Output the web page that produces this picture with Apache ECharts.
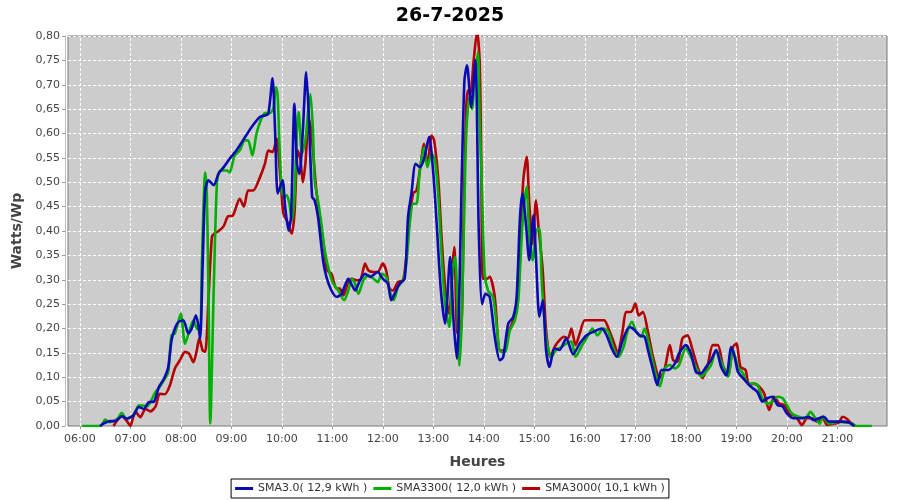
<!DOCTYPE html>
<html>
<head>
<meta charset="utf-8">
<script src="https://cdn.jsdelivr.net/npm/echarts@6/dist/echarts.min.js"></script>
<style>html,body{margin:0;padding:0;background:#fff}#c{width:900px;height:500px}</style>
</head>
<body>
<div id="c"></div>
<script>
const title = '26-7-2025';
const seriesNames = ['SMA3.0( 12,9 kWh )', 'SMA3300( 12,0 kWh )', 'SMA3000( 10,1 kWh )'];
const hourTicks = ['06:00','07:00','08:00','09:00','10:00','11:00','12:00','13:00','14:00','15:00','16:00','17:00','18:00','19:00','20:00','21:00'];

const blueTimes = ['06:24','06:28','06:36','06:42','06:50','06:56','07:04','07:10','07:16','07:22','07:28','07:34','07:40','07:45','07:49','07:53','07:57','08:03','08:09','08:13','08:18','08:21','08:23','08:26','08:29','08:33','08:39','08:45','08:51','08:58','09:06','09:14','09:24','09:34','09:40','09:44','09:49','09:52','09:55','09:58','10:01','10:04','10:08','10:11','10:15','10:18','10:21','10:25','10:29','10:32','10:36','10:39','10:43','10:49','10:53','10:59','11:05','11:11','11:19','11:23','11:27','11:33','11:39','11:45','11:54','12:00','12:06','12:10','12:14','12:20','12:26','12:30','12:34','12:39','12:44','12:49','12:55','13:00','13:04','13:09','13:14','13:20','13:24','13:28','13:34','13:37','13:40','13:45','13:50','13:54','13:58','14:02','14:07','14:13','14:19','14:23','14:29','14:35','14:39','14:43','14:46','14:50','14:54','14:59','15:02','15:06','15:10','15:14','15:18','15:24','15:30','15:38','15:46','15:54','16:02','16:10','16:20','16:26','16:32','16:38','16:45','16:53','16:59','17:05','17:11','17:15','17:21','17:26','17:31','17:39','17:47','17:52','18:00','18:06','18:12','18:18','18:24','18:30','18:36','18:42','18:48','18:54','18:58','19:02','19:10','19:17','19:25','19:31','19:37','19:43','19:49','19:55','20:00','20:08','20:18','20:26','20:32','20:38','20:44','20:50','20:58','21:06','21:14','21:20'];
const blueValues = [0.000,0.005,0.010,0.010,0.020,0.015,0.022,0.039,0.035,0.049,0.050,0.080,0.097,0.120,0.176,0.200,0.213,0.217,0.190,0.200,0.227,0.205,0.179,0.333,0.483,0.504,0.494,0.518,0.531,0.548,0.565,0.586,0.613,0.634,0.637,0.640,0.713,0.606,0.477,0.490,0.504,0.449,0.401,0.430,0.661,0.538,0.517,0.606,0.726,0.640,0.470,0.463,0.429,0.340,0.306,0.278,0.265,0.271,0.302,0.290,0.278,0.299,0.312,0.306,0.316,0.302,0.292,0.258,0.271,0.292,0.302,0.429,0.477,0.538,0.531,0.548,0.593,0.518,0.415,0.278,0.210,0.347,0.217,0.138,0.524,0.709,0.740,0.654,0.750,0.401,0.250,0.271,0.265,0.183,0.135,0.141,0.210,0.224,0.265,0.429,0.477,0.415,0.340,0.432,0.345,0.224,0.258,0.155,0.121,0.159,0.156,0.180,0.147,0.169,0.186,0.193,0.200,0.186,0.159,0.142,0.176,0.203,0.197,0.186,0.183,0.156,0.115,0.084,0.115,0.115,0.128,0.149,0.166,0.149,0.111,0.108,0.121,0.135,0.156,0.121,0.104,0.162,0.142,0.111,0.094,0.081,0.070,0.050,0.057,0.060,0.043,0.040,0.026,0.016,0.016,0.019,0.012,0.016,0.019,0.009,0.009,0.009,0.007,0.000];

const greenTimes = ['06:03','06:25','06:30','06:35','06:40','06:45','06:50','06:55','07:00','07:05','07:10','07:15','07:20','07:25','07:30','07:35','07:40','07:45','07:49','07:53','08:00','08:05','08:11','08:15','08:19','08:23','08:25','08:29','08:31','08:33','08:35','08:39','08:43','08:47','08:55','08:58','09:04','09:10','09:16','09:20','09:25','09:30','09:35','09:40','09:46','09:50','09:53','09:55','09:57','10:00','10:03','10:06','10:09','10:12','10:15','10:18','10:20','10:24','10:28','10:31','10:34','10:37','10:39','10:43','10:47','10:51','10:56','11:01','11:07','11:14','11:19','11:23','11:27','11:31','11:37','11:43','11:49','11:54','11:59','12:04','12:08','12:13','12:18','12:24','12:28','12:32','12:36','12:40','12:44','12:49','12:53','12:58','13:02','13:06','13:10','13:14','13:19','13:23','13:26','13:29','13:31','13:34','13:38','13:40','13:43','13:46','13:49','13:53','13:55','13:58','14:01','14:05','14:11','14:15','14:20','14:25','14:31','14:37','14:41','14:45','14:48','14:51','14:54','14:58','15:02','15:06','15:09','15:14','15:20','15:26','15:32','15:38','15:44','15:49','15:57','16:04','16:09','16:15','16:22','16:28','16:34','16:40','16:46','16:51','16:56','17:01','17:07','17:11','17:17','17:23','17:29','17:35','17:41','17:47','17:52','18:00','18:06','18:12','18:18','18:24','18:30','18:36','18:42','18:50','18:56','19:02','19:08','19:14','19:19','19:25','19:31','19:37','19:43','19:49','19:55','20:00','20:06','20:14','20:22','20:28','20:34','20:39','20:43','20:50','20:56','21:02','21:10','21:18','21:22','21:41'];
const greenValues = [0.000,0.000,0.013,0.008,0.010,0.015,0.027,0.015,0.018,0.025,0.042,0.042,0.040,0.053,0.070,0.080,0.094,0.110,0.186,0.190,0.230,0.169,0.200,0.217,0.200,0.196,0.333,0.520,0.470,0.260,0.005,0.270,0.500,0.524,0.524,0.520,0.555,0.565,0.586,0.586,0.555,0.600,0.627,0.642,0.642,0.652,0.695,0.680,0.586,0.483,0.470,0.473,0.456,0.422,0.470,0.606,0.644,0.559,0.586,0.640,0.681,0.606,0.504,0.463,0.415,0.360,0.319,0.292,0.278,0.258,0.278,0.302,0.292,0.271,0.299,0.309,0.302,0.295,0.312,0.306,0.278,0.258,0.285,0.299,0.333,0.415,0.456,0.456,0.524,0.572,0.531,0.559,0.545,0.470,0.347,0.251,0.203,0.319,0.347,0.230,0.124,0.230,0.538,0.627,0.675,0.650,0.709,0.767,0.640,0.470,0.312,0.278,0.265,0.210,0.152,0.152,0.196,0.217,0.258,0.388,0.456,0.490,0.388,0.340,0.401,0.405,0.292,0.183,0.141,0.156,0.162,0.169,0.173,0.142,0.166,0.186,0.200,0.186,0.200,0.193,0.159,0.142,0.162,0.196,0.214,0.193,0.183,0.200,0.162,0.115,0.081,0.118,0.125,0.118,0.125,0.159,0.142,0.121,0.101,0.111,0.125,0.156,0.132,0.101,0.156,0.121,0.108,0.087,0.087,0.084,0.057,0.046,0.050,0.060,0.057,0.043,0.026,0.019,0.016,0.029,0.016,0.005,0.019,0.005,0.007,0.009,0.007,0.005,0.000,0.000];

const redTimes = ['06:40','06:50','06:56','07:00','07:06','07:12','07:18','07:24','07:30','07:35','07:41','07:47','07:53','07:59','08:05','08:10','08:15','08:19','08:22','08:26','08:29','08:33','08:37','08:40','08:45','08:51','08:56','09:02','09:10','09:15','09:20','09:26','09:34','09:40','09:44','09:49','09:54','09:57','10:00','10:02','10:06','10:10','10:12','10:15','10:19','10:22','10:25','10:28','10:32','10:35','10:38','10:41','10:45','10:49','10:54','10:59','11:05','11:09','11:13','11:19','11:23','11:29','11:33','11:39','11:43','11:49','11:54','12:00','12:04','12:08','12:12','12:18','12:24','12:28','12:32','12:36','12:40','12:44','12:49','12:53','12:58','13:01','13:06','13:10','13:15','13:19','13:23','13:25','13:28','13:31','13:34','13:36','13:39','13:41','13:44','13:48','13:52','13:55','13:57','13:59','14:04','14:07','14:13','14:19','14:24','14:29','14:35','14:39','14:42','14:47','14:51','14:54','14:58','15:02','15:05','15:10','15:14','15:19','15:24','15:30','15:35','15:40','15:44','15:49','15:54','16:00','16:09','16:17','16:23','16:29','16:35','16:39','16:45','16:49','16:55','17:00','17:04','17:09','17:15','17:21','17:29','17:35','17:41','17:45','17:50','17:56','18:02','18:08','18:14','18:20','18:26','18:32','18:38','18:44','18:50','18:56','19:00','19:05','19:11','19:15','19:21','19:27','19:33','19:39','19:45','19:51','19:57','20:03','20:11','20:18','20:24','20:30','20:36','20:42','20:48','20:56','21:02','21:06','21:12','21:18','21:22'];
const redValues = [0.000,0.020,0.010,0.000,0.030,0.018,0.035,0.030,0.040,0.066,0.065,0.083,0.118,0.135,0.152,0.148,0.131,0.155,0.180,0.155,0.152,0.265,0.388,0.395,0.400,0.410,0.430,0.432,0.466,0.450,0.483,0.483,0.510,0.538,0.565,0.562,0.589,0.538,0.470,0.435,0.422,0.401,0.395,0.435,0.565,0.548,0.500,0.538,0.630,0.606,0.545,0.483,0.429,0.381,0.319,0.312,0.282,0.282,0.268,0.295,0.302,0.299,0.299,0.333,0.319,0.316,0.316,0.333,0.319,0.282,0.278,0.295,0.299,0.347,0.429,0.477,0.483,0.524,0.579,0.535,0.596,0.586,0.504,0.381,0.265,0.230,0.333,0.367,0.196,0.183,0.230,0.428,0.647,0.688,0.682,0.750,0.810,0.750,0.540,0.302,0.302,0.306,0.265,0.155,0.155,0.190,0.217,0.251,0.347,0.506,0.552,0.456,0.374,0.463,0.408,0.319,0.196,0.141,0.162,0.176,0.183,0.180,0.200,0.166,0.190,0.217,0.217,0.217,0.217,0.196,0.169,0.148,0.196,0.234,0.234,0.251,0.227,0.234,0.193,0.142,0.098,0.118,0.166,0.135,0.132,0.180,0.186,0.156,0.121,0.098,0.125,0.166,0.166,0.125,0.104,0.162,0.169,0.121,0.115,0.084,0.087,0.081,0.067,0.033,0.060,0.046,0.043,0.026,0.019,0.002,0.016,0.016,0.009,0.019,0.002,0.005,0.007,0.019,0.014,0.002,0.000];

function toMin(s){ const p = s.split(':'); return (+p[0])*60 + (+p[1]); }
function pad(n){ return (n<10?'0':'') + n; }
function pairs(ts, vs){ return ts.map((t,i)=>[toMin(t), vs[i]]); }

const FONT = 'DejaVu Sans';
const GRIDLINE = {color: '#ffffff', width: 1, type: [3, 2]};
const chart = echarts.init(document.getElementById('c'), null, {renderer:'canvas'});

function mkSeries(name, color, ts, vs){
  return {
    name: name, type: 'line', data: pairs(ts, vs), z: 3,
    showSymbol: false, smooth: 0.25, clip: true,
    lineStyle: {color: color, width: 2.6}, itemStyle: {color: color},
    emphasis: {disabled: true}, animation: false
  };
}

chart.setOption({
  animation: false,
  backgroundColor: '#ffffff',
  title: {
    text: title, left: 'center', top: 2,
    textStyle: {fontFamily: FONT, fontSize: 19, fontWeight: 'bold', color: '#000'}
  },
  legend: {
    data: seriesNames, bottom: 2, left: 'center',
    borderColor: '#000', borderWidth: 1, padding: [4, 4],
    itemWidth: 18, itemHeight: 3, itemGap: 6, icon: 'rect',
    textStyle: {fontFamily: FONT, fontSize: 11, color: '#333'}
  },
  grid: {
    left: 68, right: 13, top: 36, bottom: 74,
    show: true, backgroundColor: '#cccccc', borderColor: '#777777', borderWidth: 1
  },
  xAxis: {
    type: 'value', min: 346, max: 1319,
    offset: 4,
    name: 'Heures', nameLocation: 'middle', nameGap: 25,
    nameTextStyle: {fontFamily: FONT, fontSize: 14, fontWeight: 'bold', color: '#444'},
    axisLine: {show: true, lineStyle: {color: '#bbbbbb', width: 1}},
    axisTick: {show: true, length: 3, lineStyle: {color: '#999'}, customValues: hourTicks.map(toMin)},
    axisLabel: {
      customValues: hourTicks.map(toMin), margin: 4,
      fontFamily: FONT, fontSize: 11, color: '#444',
      formatter: v => pad(Math.floor(v/60)) + ':' + pad(v%60)
    },
    splitLine: {show: false}
  },
  yAxis: {
    type: 'value', min: 0, max: 0.8, interval: 0.05,
    offset: 3,
    name: 'Watts/Wp', nameLocation: 'middle', nameGap: 35,
    nameTextStyle: {fontFamily: FONT, fontSize: 14, fontWeight: 'bold', color: '#444'},
    axisLine: {show: true, lineStyle: {color: '#bbbbbb', width: 1}},
    axisTick: {show: true, length: 3, lineStyle: {color: '#999'}},
    axisLabel: {
      margin: 5, fontFamily: FONT, fontSize: 11, color: '#444',
      formatter: v => v.toFixed(2).replace('.', ',')
    },
    splitLine: {show: true, lineStyle: GRIDLINE}
  },
  series: [
    {
      name: 'hourGrid', type: 'line', data: [], z: 1, silent: true,
      markLine: {
        z: 1, silent: true, symbol: ['none', 'none'], animation: false,
        label: {show: false}, emphasis: {disabled: true},
        lineStyle: GRIDLINE,
        data: hourTicks.map(t => ({xAxis: toMin(t)}))
      }
    },
    mkSeries(seriesNames[2], '#b40000', redTimes, redValues),
    mkSeries(seriesNames[1], '#00b000', greenTimes, greenValues),
    mkSeries(seriesNames[0], '#0a0ab4', blueTimes, blueValues)
  ]
});
</script>
</body>
</html>
